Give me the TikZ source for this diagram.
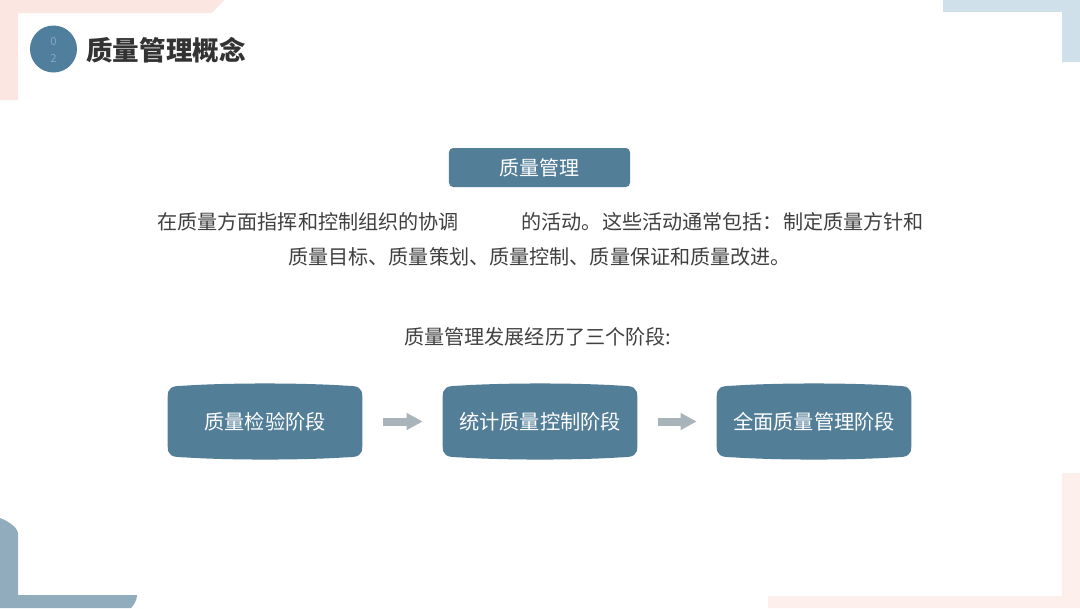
\documentclass[tikz,border=0pt]{standalone}
\usepackage{fontspec}
\setmainfont{Noto Sans CJK SC}
\usetikzlibrary{arrows.meta,backgrounds}
\definecolor{boxblue}{HTML}{537E97}
\definecolor{circblue}{HTML}{4F7F9C}
\definecolor{digitblue}{HTML}{86A8BE}
\definecolor{txtgrey}{HTML}{404040}
\definecolor{titlegrey}{HTML}{333333}
\definecolor{arrowgrey}{HTML}{A9B4BA}
\definecolor{pinkA}{HTML}{FBE6E2}
\definecolor{pinkB}{HTML}{FDEFEC}
\definecolor{blueA}{HTML}{D0E0EA}
\definecolor{blueB}{HTML}{91ACBD}
\tikzset{
  bodytext/.style={text=txtgrey, inner sep=0pt, font=\fontsize{14.3}{17}\selectfont},
  stagebox/.style={rectangle, inner sep=0pt, minimum width=4.85cm, minimum height=1.825cm,
    text=white, font=\fontsize{14.4}{17}\selectfont},
  headbox/.style={rectangle, rounded corners=3pt, fill=boxblue, inner sep=0pt,
    minimum width=4.525cm, minimum height=0.975cm, text=white, font=\fontsize{14.2}{17}\selectfont},
  stagearrow/.style={draw=arrowgrey, line width=0.2cm, -{Triangle[length=0.4cm,width=0.4cm]},
    shorten <=0.525cm, shorten >=0.5cm},
}
\newcommand\stageshape[1]{%
  \fill[boxblue] ([shift={(0,12)}]#1.north west)
    .. controls ([shift={(0,3)}]#1.north west) and ([shift={(4,1)}]#1.north west) .. ([shift={(16,1)}]#1.north west)
    .. controls ([shift={(60,-2)}]#1.north west) and ([shift={(-60,-2)}]#1.north east) .. ([shift={(-16,1)}]#1.north east)
    .. controls ([shift={(-4,1)}]#1.north east) and ([shift={(0,3)}]#1.north east) .. ([shift={(0,12)}]#1.north east)
    -- ([shift={(0,-12)}]#1.south east)
    .. controls ([shift={(0,-3)}]#1.south east) and ([shift={(-4,-1)}]#1.south east) .. ([shift={(-16,-1)}]#1.south east)
    .. controls ([shift={(-60,2)}]#1.south east) and ([shift={(60,2)}]#1.south west) .. ([shift={(16,-1)}]#1.south west)
    .. controls ([shift={(4,-1)}]#1.south west) and ([shift={(0,-3)}]#1.south west) .. ([shift={(0,-12)}]#1.south west)
    -- cycle;}
\begin{document}
\begin{tikzpicture}[x=0.025cm, y=-0.025cm]
\useasboundingbox (0,0) rectangle (1080,608);
\begin{scope}[on background layer]
\fill[white] (0,0) rectangle (1080,608);
% decorative corners
\fill[pinkA] (0,0) -- (224,0) -- (212,13) -- (18,13) -- (18,100) -- (0,100) -- cycle;
\fill[blueA] (943,0) -- (1080,0) -- (1080,62) -- (1062,62) -- (1062,12) -- (943,12) -- cycle;
\fill[blueB] (0,518) .. controls (10,522) and (18,528) .. (18,534) -- (18,595) -- (137,595)
  .. controls (137,600) and (134,605) .. (131,608) -- (0,608) -- cycle;
\fill[pinkB] (1062,473) -- (1080,473) -- (1080,608) -- (768,608) -- (768,596) -- (1062,596) -- cycle;
\end{scope}
% header
\node[circle, fill=circblue, minimum size=1.175cm, inner sep=0pt] (badge) at (53.5,49) {};
\node[text=digitblue, font=\fontsize{8}{8}\selectfont, inner sep=0pt] (d0) at (53.5,41) {0};
\node[text=digitblue, font=\fontsize{8}{8}\selectfont, inner sep=0pt] (d2) at (53.5,58) {2};
\node[anchor=west, inner sep=0pt, text=titlegrey, font=\fontsize{18.9}{22}\selectfont\bfseries] (title) at (86,50) {质量管理概念};
% heading box
\node[headbox] (qm) at (539.5,167.5) {质量管理};
\node[bodytext, anchor=west] (l1) at (157,222) {在质量方面指挥和控制组织的协调\hspace{44.6pt}的活动。这些活动通常包括：制定质量方针和};
\node[bodytext, anchor=west] (l2) at (288,257) {质量目标、质量策划、质量控制、质量保证和质量改进。};
\node[bodytext, anchor=west] (l3) at (404,337) {质量管理发展经历了三个阶段:};
% stages
\node[stagebox] (s1) at (265,421.5) {质量检验阶段};
\node[stagebox] (s2) at (540,421.5) {统计质量控制阶段};
\node[stagebox] (s3) at (814,421.5) {全面质量管理阶段};
\begin{scope}[on background layer]
  \stageshape{s1}
  \stageshape{s2}
  \stageshape{s3}
\end{scope}
\draw[stagearrow] (s1) -- (s2);
\draw[stagearrow] (s2) -- (s3);
\end{tikzpicture}
\end{document}
